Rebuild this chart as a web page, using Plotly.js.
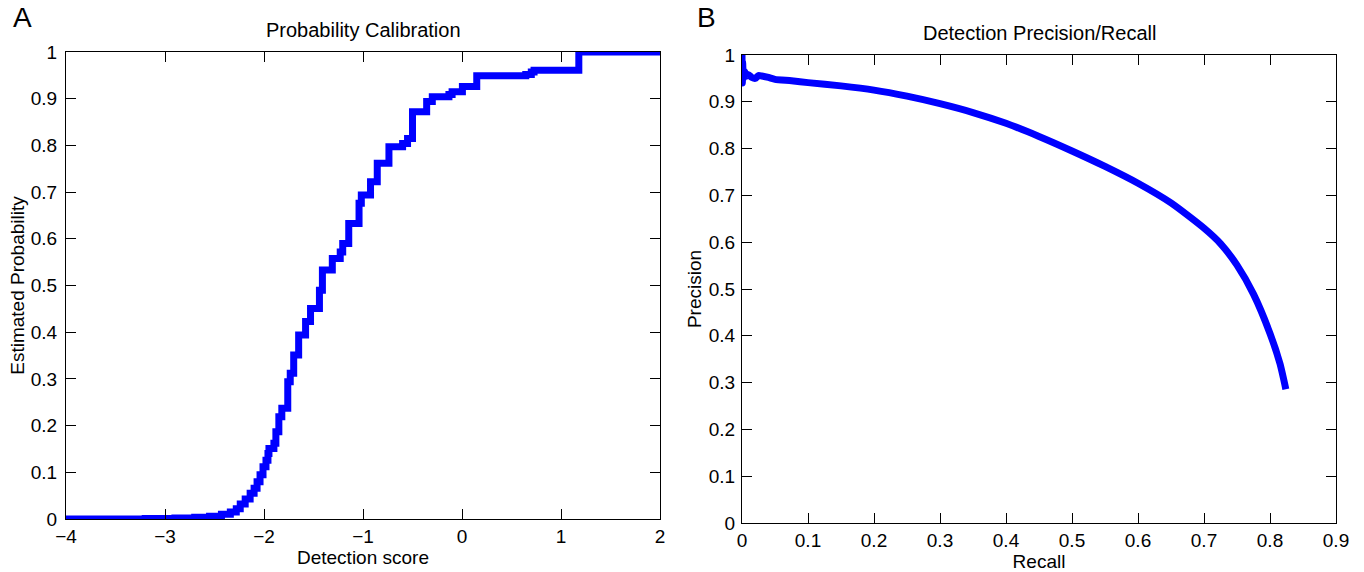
<!DOCTYPE html>
<html>
<head>
<meta charset="utf-8">
<script src="https://cdn.plot.ly/plotly-3.0.1.min.js"></script>
<style>
  html, body { margin: 0; padding: 0; background: #ffffff; }
  #chart { width: 1364px; height: 572px; }
</style>
</head>
<body>
<div id="chart"></div>
<script>
// Panel A: probability calibration (step function: value after each step)
const calibScore = [-4.00, -3.20, -2.90, -2.70, -2.55, -2.43, -2.34, -2.28, -2.24, -2.19,
  -2.14, -2.10, -2.07, -2.04, -2.01, -1.98, -1.96, -1.95, -1.90, -1.88,
  -1.85, -1.82, -1.76, -1.735, -1.70, -1.65, -1.58, -1.53, -1.44, -1.41,
  -1.31, -1.23, -1.205, -1.144, -1.04, -1.017, -0.924, -0.856, -0.738, -0.60,
  -0.55, -0.50, -0.357, -0.30, -0.132, -0.10, 0.004, 0.149, 0.644, 0.70,
  0.728, 1.18, 2.00];
const calibProb = [0.000, 0.001, 0.002, 0.004, 0.006, 0.010, 0.015, 0.022, 0.032, 0.043,
  0.055, 0.066, 0.080, 0.095, 0.112, 0.126, 0.140, 0.151, 0.162, 0.187,
  0.219, 0.237, 0.294, 0.312, 0.351, 0.394, 0.423, 0.451, 0.490, 0.533,
  0.558, 0.572, 0.590, 0.633, 0.676, 0.694, 0.722, 0.762, 0.797, 0.804,
  0.815, 0.872, 0.894, 0.904, 0.909, 0.915, 0.926, 0.949, 0.952, 0.957,
  0.961, 1.000, 1.000];

// Panel B: precision / recall
const recall = [0, 0.0005, 0.001, 0.002, 0.004, 0.007, 0.01, 0.015, 0.02, 0.025,
  0.03, 0.04, 0.05, 0.075, 0.1, 0.15, 0.2, 0.25, 0.3, 0.35,
  0.4, 0.45, 0.5, 0.55, 0.6, 0.65, 0.7, 0.725, 0.75, 0.775,
  0.8, 0.815, 0.824];
const precision = [1.0, 0.94, 0.985, 0.95, 0.965, 0.955, 0.958, 0.952, 0.950, 0.956,
  0.955, 0.952, 0.948, 0.945, 0.941, 0.934, 0.925, 0.912, 0.896, 0.877,
  0.854, 0.826, 0.795, 0.762, 0.726, 0.684, 0.630, 0.597, 0.551, 0.489,
  0.405, 0.341, 0.286];

// Tick values
const xTicksA = [-4, -3, -2, -1, 0, 1, 2];
const yTicks = [0, 0.1, 0.2, 0.3, 0.4, 0.5, 0.6, 0.7, 0.8, 0.9, 1];
const xTicksB = [0, 0.1, 0.2, 0.3, 0.4, 0.5, 0.6, 0.7, 0.8, 0.9];

// Text
const panelTitles = ['Probability Calibration', 'Detection Precision/Recall'];
const panelLetters = ['A', 'B'];
const axisTitles = {xA: 'Detection score', yA: 'Estimated Probability', xB: 'Recall', yB: 'Precision'};

const FONT = 'Liberation Sans, Arial, Helvetica, sans-serif';

const traces = [
  {x: calibScore, y: calibProb, type: 'scatter', mode: 'lines',
   line: {color: '#0000ff', width: 7, shape: 'hv'}, xaxis: 'x', yaxis: 'y', hoverinfo: 'x+y'},
  {x: recall, y: precision, type: 'scatter', mode: 'lines',
   line: {color: '#0000ff', width: 7, shape: 'spline', smoothing: 0.6}, xaxis: 'x2', yaxis: 'y2', hoverinfo: 'x+y'}
];

function axisBase() {
  return {
    showgrid: false, zeroline: false, showline: true, linecolor: '#000', linewidth: 1,
    mirror: 'ticks', ticks: 'inside', ticklen: 10, tickwidth: 1, tickcolor: '#000',
    tickfont: {family: FONT, size: 19, color: '#000'}, tickmode: 'array', fixedrange: true
  };
}

const layout = {
  width: 1364, height: 572,
  margin: {l: 0, r: 0, t: 0, b: 0},
  paper_bgcolor: '#fff', plot_bgcolor: '#fff',
  showlegend: false,
  font: {family: FONT, color: '#000'},
  xaxis: Object.assign(axisBase(), {
    domain: [66/1364, 660/1364], range: [-4, 2], tickvals: xTicksA, anchor: 'y',
    title: {text: axisTitles.xA, font: {family: FONT, size: 19, color: '#000'}, standoff: 1}
  }),
  yaxis: Object.assign(axisBase(), {
    domain: [(572-519)/572, (572-52)/572], range: [0, 1], tickvals: yTicks, anchor: 'x',
    ticklabelstandoff: 4,
    title: {text: axisTitles.yA, font: {family: FONT, size: 19, color: '#000'}, standoff: 1}
  }),
  xaxis2: Object.assign(axisBase(), {
    domain: [742/1364, 1336/1364], range: [0, 0.9], tickvals: xTicksB, anchor: 'y2',
    title: {text: axisTitles.xB, font: {family: FONT, size: 19, color: '#000'}, standoff: 1}
  }),
  yaxis2: Object.assign(axisBase(), {
    domain: [(572-523)/572, (572-55)/572], range: [0, 1], tickvals: yTicks, anchor: 'x2',
    ticklabelstandoff: 2,
    title: {text: axisTitles.yB, font: {family: FONT, size: 19, color: '#000'}, standoff: 2}
  }),
  annotations: [
    {text: panelTitles[0], xref: 'paper', yref: 'paper', x: 363/1364, y: 1 - 30/572,
     xanchor: 'center', yanchor: 'middle', showarrow: false, font: {family: FONT, size: 20, color: '#000'}},
    {text: panelTitles[1], xref: 'paper', yref: 'paper', x: 1039/1364, y: 1 - 33/572,
     xanchor: 'center', yanchor: 'middle', showarrow: false, font: {family: FONT, size: 20, color: '#000'}},
    {text: panelLetters[0], xref: 'paper', yref: 'paper', x: 11/1364, y: 1 - 18/572,
     xanchor: 'left', yanchor: 'middle', showarrow: false, font: {family: FONT, size: 28, color: '#000'}},
    {text: panelLetters[1], xref: 'paper', yref: 'paper', x: 695/1364, y: 1 - 18/572,
     xanchor: 'left', yanchor: 'middle', showarrow: false, font: {family: FONT, size: 28, color: '#000'}}
  ]
};

Plotly.newPlot('chart', traces, layout, {displayModeBar: false, staticPlot: true});
</script>
</body>
</html>
